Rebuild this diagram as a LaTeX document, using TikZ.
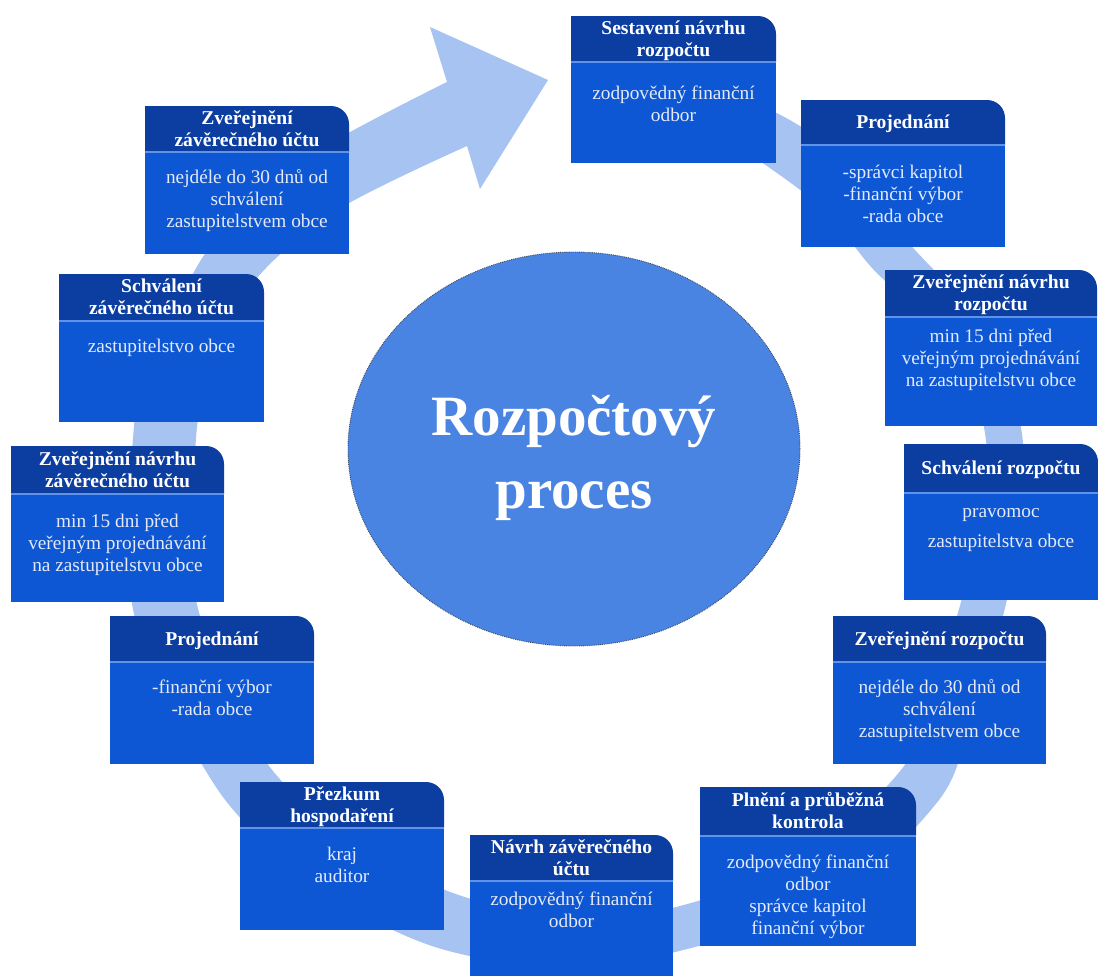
\documentclass[tikz,border=0pt]{standalone}
\usepackage{fontspec}
\setmainfont{Liberation Serif}
\usetikzlibrary{shapes.geometric}
\definecolor{headblue}{RGB}{11,62,160}
\definecolor{bodyblue}{RGB}{14,87,212}
\definecolor{sepline}{RGB}{96,146,230}
\definecolor{ringblue}{RGB}{166,195,242}
\definecolor{circblue}{RGB}{74,132,226}
\definecolor{circedge}{RGB}{60,72,96}
\definecolor{bodytext}{RGB}{228,234,248}
\newcommand{\boxshape}[5]{%
  \fill[bodyblue] (#1,#5) rectangle (#3,#4);
  \fill[headblue] (#1,#5) -- (#1,#2) -- ({#3-18},#2) .. controls ({#3-8},#2) and (#3,{#2+8}) .. (#3,{#2+18}) -- (#3,#5) -- cycle;
  \draw[sepline, line width=1.2pt] (#1,#5) -- (#3,#5);
}
\newcommand{\hs}{\rule{0pt}{14.5pt}}
\begin{document}
\begin{tikzpicture}[x=1pt,y=-1pt,
  hdr/.style={font={\fontsize{19.6}{22}\selectfont\bfseries}, text=white, align=center, anchor=north, inner sep=0pt},
  bdy/.style={font={\fontsize{19.3}{22}\selectfont}, text=bodytext, align=center, anchor=north, inner sep=0pt},
  ttl/.style={font={\fontsize{57}{73}\selectfont\bfseries}, text=white, anchor=base, inner sep=0pt},
  core/.style={ellipse, fill=circblue, draw=circedge, densely dotted, line width=0.9pt, inner sep=0pt}]
\fill[white] (0,0) rectangle (1098,978);
\useasboundingbox (0,0) rectangle (1098,978);

% circular arrow (ring)
\fill[ringblue] plot[smooth] coordinates {(653,77) (727,91) (803,128) (860,179) (907,241) (993,338) (1022,434) (1020,520) (1004,612) (969,727) (939,800) (834,901) (691,948) (570,969) (435,947) (321,889) (218,790) (134,614) (134,426) (155,359) (207,251) (301,161) (447,82)}
  -- (430,27) -- (548,80) -- (480,189) --
  plot[smooth] coordinates {(467,146) (339,209) (253,283) (211,379) (196,438) (196,600) (262,756) (353,843) (453,893) (571,921) (680,906) (806,859) (901,770) (929,705) (961,602) (980,520) (986,440) (958,353) (873,269) (830,215) (777,173) (713,133) (647,113)} -- cycle;

% centre
\node[core, minimum width=452pt, minimum height=394pt] (core) at (574,449) {};
\node[ttl] (t1) at (574,435) {Rozpočtový};
\node[ttl] (t2) at (574,508) {proces};

% boxes
\boxshape{571}{16}{776}{163}{62}
\node[hdr] (h1) at (673.5,19.5) {\hs Sestavení návrhu\\rozpočtu};
\node[bdy] (b1) at (673.5,84.5) {\hs zodpovědný finanční\\odbor};

\boxshape{801}{100}{1005}{247}{145}
\node[hdr] (h2) at (903,114) {\hs Projednání};
\node[bdy] (b2) at (903,163.5) {\hs -správci kapitol\\-finanční výbor\\-rada obce};

\boxshape{885}{270}{1097}{426}{317}
\node[hdr] (h3) at (991,274) {\hs Zveřejnění návrhu\\rozpočtu};
\node[bdy] (b3) at (991,327.5) {\hs min 15 dni před\\veřejným projednávání\\na zastupitelstvu obce};

\boxshape{904}{444}{1098}{600}{493}
\node[hdr] (h4) at (1001,460) {\hs Schválení rozpočtu};
\node[bdy] (b4) at (1001,502.5) {\hs pravomoc\\[8pt]zastupitelstva obce};

\boxshape{833}{616}{1046}{764}{662}
\node[hdr] (h5) at (939.5,630.5) {\hs Zveřejnění rozpočtu};
\node[bdy] (b5) at (939.5,678.5) {\hs nejdéle do 30 dnů od\\schválení\\zastupitelstvem obce};

\boxshape{700}{787}{916}{946}{836}
\node[hdr] (h6) at (808,792) {\hs Plnění a průběžná\\kontrola};
\node[bdy] (b6) at (808,853.5) {\hs zodpovědný finanční\\odbor\\správce kapitol\\finanční výbor};

\boxshape{470}{835}{673}{976}{881}
\node[hdr] (h7) at (571.5,838.5) {\hs Návrh závěrečného\\účtu};
\node[bdy] (b7) at (571.5,890.5) {\hs zodpovědný finanční\\odbor};

\boxshape{240}{782}{444}{930}{828}
\node[hdr] (h8) at (342,785.5) {\hs Přezkum\\hospodaření};
\node[bdy] (b8) at (342,845.5) {\hs kraj\\auditor};

\boxshape{110}{616}{314}{764}{662}
\node[hdr] (h9) at (212,630.5) {\hs Projednání};
\node[bdy] (b9) at (212,678.5) {\hs -finanční výbor\\-rada obce};

\boxshape{11}{446}{224}{602}{494}
\node[hdr] (h10) at (117.5,450.5) {\hs Zveřejnění návrhu\\závěrečného účtu};
\node[bdy] (b10) at (117.5,512.5) {\hs min 15 dni před\\veřejným projednávání\\na zastupitelstvu obce};

\boxshape{59}{274}{264}{422}{321}
\node[hdr] (h11) at (161.5,278) {\hs Schválení\\závěrečného účtu};
\node[bdy] (b11) at (161.5,337.5) {\hs zastupitelstvo obce};

\boxshape{145}{106}{349}{254}{152}
\node[hdr] (h12) at (247,109.5) {\hs Zveřejnění\\závěrečného účtu};
\node[bdy] (b12) at (247,168.5) {\hs nejdéle do 30 dnů od\\schválení\\zastupitelstvem obce};
\end{tikzpicture}
\end{document}
